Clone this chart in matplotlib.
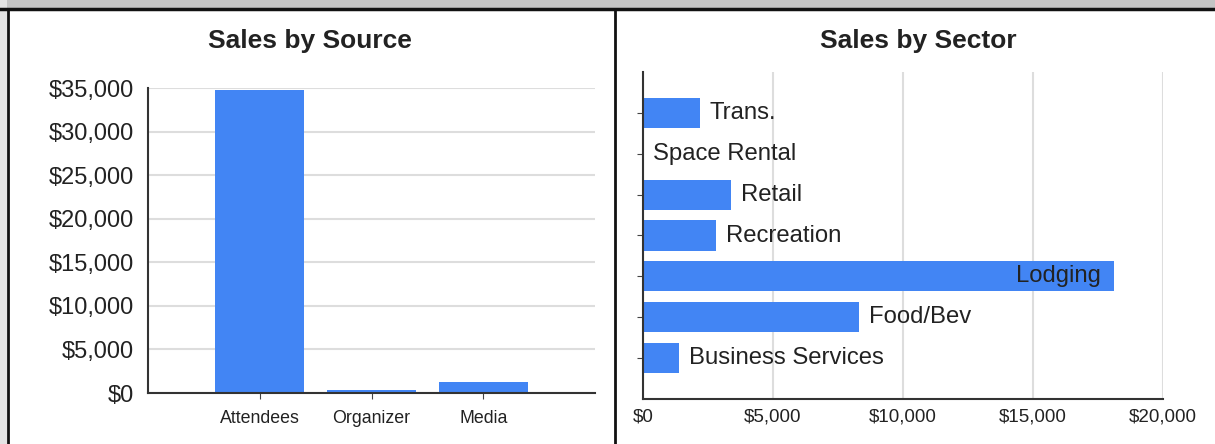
import numpy as np
import matplotlib
matplotlib.use('Agg')
import matplotlib.pyplot as plt
from matplotlib.lines import Line2D
from matplotlib.patches import Rectangle

plt.rcParams['font.family'] = ['Liberation Sans', 'DejaVu Sans']

# data
source_names = ['Attendees', 'Organizer', 'Media']
source_sales = [34800, 300, 1300]
source_ticks = [0, 5000, 10000, 15000, 20000, 25000, 30000, 35000]

sector_names = ['Business Services', 'Food/Bev', 'Lodging', 'Recreation',
                'Retail', 'Space Rental', 'Trans.']
sector_sales = [1400, 8300, 18100, 2800, 3400, 0, 2200]
sector_ticks = [0, 5000, 10000, 15000, 20000]

BLUE = '#4285f4'
TXT = '#222222'
GRID = '#dddddd'
W, H = 1215, 444

def money(v):
    return '${:,}'.format(v)

fig = plt.figure(figsize=(W/100, H/100), dpi=100)
fig.patch.set_facecolor('white')

# frame around the two panels
fig.add_artist(Rectangle((0, 1 - 8/H), 1, 8/H, transform=fig.transFigure,
                         facecolor='#c4c4c4', edgecolor='none'))
fig.add_artist(Rectangle((0, 0), 7/W, 1, transform=fig.transFigure,
                         facecolor='#e4e4e4', edgecolor='none'))
fig.add_artist(Line2D([0, 1], [1 - 9/H, 1 - 9/H], transform=fig.transFigure,
                      color='#111111', lw=2.5))
fig.add_artist(Line2D([8/W, 8/W], [0, 1 - 9/H], transform=fig.transFigure,
                      color='#111111', lw=2))
fig.add_artist(Line2D([615/W, 615/W], [0, 1 - 9/H], transform=fig.transFigure,
                      color='#111111', lw=2))

# left: sales by source
ax1 = fig.add_axes([148/W, 1 - 393/H, (595 - 148)/W, (393 - 88)/H])
pos = np.arange(1, len(source_names) + 1)
ax1.bar(pos, source_sales, width=0.8, color=BLUE, zorder=2)
ax1.set_xlim(0, 4)
ax1.set_ylim(0, 35000)
ax1.set_yticks(source_ticks)
ax1.set_yticklabels([money(v) for v in source_ticks], fontsize=17, color=TXT)
ax1.set_xticks(pos)
ax1.set_xticklabels(source_names, fontsize=12.8, color=TXT)
ax1.tick_params(axis='y', length=0, pad=10)
ax1.tick_params(axis='x', length=4, color='#444444', pad=8)
ax1.grid(axis='y', color=GRID, lw=1.5, zorder=0)
for s in ['top', 'right']:
    ax1.spines[s].set_visible(False)
ax1.spines['left'].set_color('#333333')
ax1.spines['bottom'].set_color('#333333')
ax1.spines['left'].set_linewidth(1.5)
ax1.spines['bottom'].set_linewidth(1.5)
fig.text(310/W, 1 - 41/H, 'Sales by Source', ha='center', va='center',
         fontsize=19, fontweight='bold', color=TXT)

# right: sales by sector
ax2 = fig.add_axes([643/W, 1 - 399/H, (1163 - 643)/W, (399 - 72)/H])
ypos = np.arange(len(sector_names))
ax2.barh(ypos, sector_sales, height=0.74, color=BLUE, zorder=2)
ax2.set_xlim(0, 20000)
ax2.set_ylim(-1, 7)
ax2.set_xticks(sector_ticks)
ax2.set_xticklabels([money(v) for v in sector_ticks], fontsize=13.5, color=TXT)
ax2.set_yticks(ypos)
ax2.set_yticklabels([])
ax2.tick_params(axis='x', length=0, pad=7)
ax2.tick_params(axis='y', length=4, color='#444444')
ax2.grid(axis='x', color=GRID, lw=1.5, zorder=0)
for s in ['top', 'right']:
    ax2.spines[s].set_visible(False)
ax2.spines['left'].set_color('#333333')
ax2.spines['bottom'].set_color('#333333')
ax2.spines['left'].set_linewidth(1.5)
ax2.spines['bottom'].set_linewidth(1.5)
for y, (name, v) in enumerate(zip(sector_names, sector_sales)):
    if v > 15000:
        ax2.annotate(name, (v, y), xytext=(-9, 0), textcoords='offset points',
                     ha='right', va='center', fontsize=17.2, color=TXT)
    else:
        ax2.annotate(name, (v, y), xytext=(7, 0), textcoords='offset points',
                     ha='left', va='center', fontsize=17.2, color=TXT)
fig.text(918/W, 1 - 41/H, 'Sales by Sector', ha='center', va='center',
         fontsize=19, fontweight='bold', color=TXT)

fig.savefig('out.png', dpi=100)
